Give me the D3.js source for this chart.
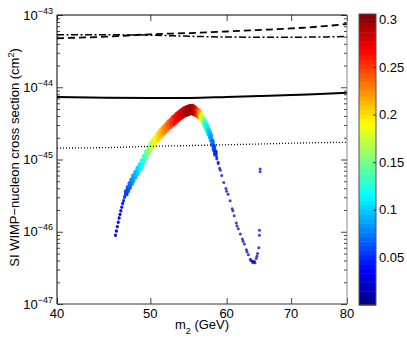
<!DOCTYPE html>
<html>
<head>
<meta charset="utf-8">
<script src="https://cdn.jsdelivr.net/npm/d3@7"></script>
<style>
  body { margin: 0; background: #fff; }
  svg { display: block; }
  text { font-family: "Liberation Sans", Arial, sans-serif; fill: #000; }
</style>
</head>
<body>
<svg id="chart" width="407" height="341"></svg>
<script>
// exclusion limits (cm^2) on a mass grid (GeV)
var massGrid     = [40, 45, 50, 55, 60, 65, 70, 75, 80];
var solidLimit   = [7.34e-45, 7.18e-45, 7.11e-45, 7.11e-45, 7.34e-45, 7.58e-45, 7.82e-45, 8.07e-45, 8.41e-45];
var dottedLimit  = [1.44e-45, 1.46e-45, 1.52e-45, 1.56e-45, 1.60e-45, 1.64e-45, 1.68e-45, 1.71e-45, 1.73e-45];
var dashedLimit  = [4.77e-44, 5.01e-44, 5.41e-44, 5.63e-44, 5.91e-44, 6.21e-44, 6.51e-44, 6.93e-44, 7.51e-44];
var dashDotLimit = [5.34e-44, 5.32e-44, 5.26e-44, 5.07e-44, 4.96e-44, 4.93e-44, 4.93e-44, 4.96e-44, 5.03e-44];

// thick part of the scan: mass, log10(sigma), half thickness (decades), colour value
var bandMass = [46.0, 46.1, 46.2, 46.3, 46.4, 46.5, 46.6, 46.7, 46.8, 46.9, 47.0, 47.2, 47.4, 47.6, 47.8,
                48.0, 48.25, 48.5, 48.75, 49.0, 49.25, 49.5, 49.75, 50.0, 50.25, 50.5, 50.75, 51.0, 51.25,
                51.5, 51.75, 52.0, 52.25, 52.5, 52.75, 53.0, 53.25, 53.5, 53.75, 54.0, 54.25, 54.5, 54.75,
                55.0, 55.25, 55.5, 55.75, 56.0, 56.15, 56.3, 56.45, 56.6, 56.75, 56.9, 57.05, 57.2, 57.35,
                57.5, 57.65, 57.8, 58.0, 58.2, 58.4, 58.6, 58.8];
var bandLogSigma = [-46.05, -45.99, -45.93, -45.87, -45.81, -45.76, -45.71, -45.66, -45.61, -45.57, -45.52,
                    -45.46, -45.41, -45.36, -45.31, -45.26, -45.21, -45.16, -45.11, -45.06, -45.00, -44.94,
                    -44.88, -44.83, -44.79, -44.75, -44.71, -44.68, -44.64, -44.61, -44.58, -44.55, -44.52,
                    -44.50, -44.47, -44.45, -44.42, -44.40, -44.38, -44.36, -44.34, -44.33, -44.32, -44.31,
                    -44.31, -44.32, -44.34, -44.36, -44.37, -44.39, -44.41, -44.43, -44.46, -44.49, -44.52,
                    -44.55, -44.58, -44.62, -44.66, -44.70, -44.77, -44.84, -44.91, -44.98, -45.05];
var bandSpread = [0.005, 0.005, 0.005, 0.005, 0.005, 0.005, 0.005, 0.005, 0.005, 0.005, 0.01,
                  0.02, 0.025, 0.03, 0.03, 0.035, 0.035, 0.04, 0.04, 0.045, 0.045, 0.045,
                  0.045, 0.045, 0.045, 0.045, 0.045, 0.045, 0.045, 0.045, 0.045, 0.045, 0.045,
                  0.045, 0.05, 0.05, 0.05, 0.05, 0.05, 0.05, 0.05, 0.05, 0.05, 0.05,
                  0.05, 0.05, 0.045, 0.04, 0.04, 0.04, 0.035, 0.035, 0.035, 0.035, 0.035,
                  0.035, 0.035, 0.03, 0.03, 0.03, 0.025, 0.025, 0.02, 0.015, 0.01];
var bandXi = [0.035, 0.035, 0.037, 0.038, 0.039, 0.04, 0.042, 0.044, 0.046, 0.048, 0.05,
              0.056, 0.062, 0.068, 0.076, 0.085, 0.092, 0.10, 0.107, 0.115, 0.127, 0.14,
              0.152, 0.165, 0.175, 0.185, 0.195, 0.205, 0.212, 0.22, 0.228, 0.235, 0.242,
              0.25, 0.257, 0.265, 0.27, 0.275, 0.28, 0.285, 0.29, 0.295, 0.298, 0.30,
              0.297, 0.29, 0.27, 0.25, 0.23, 0.21, 0.195, 0.18, 0.16, 0.14, 0.13,
              0.12, 0.11, 0.10, 0.092, 0.085, 0.07, 0.06, 0.05, 0.045, 0.04];

// thin tail of the scan
var tailMass = [59.0, 59.1, 59.3, 59.6, 59.9, 60.0, 60.2, 60.5, 60.8, 60.9, 61.1, 61.4, 61.5, 61.7, 62.0,
                62.3, 62.4, 62.6, 62.9, 63.0, 63.2, 63.5, 63.6, 63.8, 63.9, 64.1, 64.2, 64.4, 64.5, 64.6,
                64.8, 64.9, 64.9, 65.0, 65.0];
var tailLogSigma = [-45.12, -45.15, -45.22, -45.32, -45.40, -45.44, -45.48, -45.57, -45.68, -45.71, -45.78,
                    -45.88, -45.92, -45.96, -46.03, -46.10, -46.13, -46.17, -46.25, -46.28, -46.32, -46.38,
                    -46.40, -46.41, -46.43, -46.41, -46.43, -46.37, -46.34, -46.30, -46.22, -46.05, -45.98,
                    -45.13, -45.17];
var tailXi = [0.035, 0.034, 0.032, 0.03, 0.028, 0.027, 0.026, 0.024, 0.022, 0.022, 0.02,
              0.019, 0.019, 0.018, 0.017, 0.016, 0.016, 0.015, 0.014, 0.014, 0.013, 0.012,
              0.012, 0.012, 0.012, 0.012, 0.012, 0.013, 0.013, 0.014, 0.015, 0.02, 0.02,
              0.035, 0.035];

var xTicks = [40, 50, 60, 70, 80];
var yDecades = [-47, -46, -45, -44, -43];
var colorTicks = [0.05, 0.1, 0.15, 0.2, 0.25, 0.3];

var svg = d3.select('#chart');
var margin = { top: 15, left: 57, bottom: 37, right: 60 };
var width = 407, height = 341;

var x = d3.scaleLog().domain([40, 80]).range([margin.left, width - margin.right]);
var y = d3.scaleLog().domain([1e-47, 1e-43]).range([height - margin.bottom, margin.top]);

// jet colormap
var jet = d3.scaleLinear()
    .domain([0, 0.125, 0.375, 0.625, 0.875, 1])
    .range(["#000080", "#0000ff", "#00ffff", "#ffff00", "#ff0000", "#800000"]);
var cMax = 0.3056;
function colorOf(v) { return jet(Math.max(0, Math.min(1, v / cMax))); }

svg.append("defs").append("clipPath").attr("id", "plotclip")
    .append("rect")
    .attr("x", margin.left).attr("y", margin.top)
    .attr("width", width - margin.left - margin.right)
    .attr("height", height - margin.top - margin.bottom);

var plot = svg.append("g").attr("clip-path", "url(#plotclip)");

// scan points
var pts = [];
for (var i = 0; i < bandMass.length; i++) {
    var r = bandSpread[i] < 0.02 ? 1.4 : 2.3;
    pts.push([bandMass[i], bandLogSigma[i] + bandSpread[i], bandXi[i], r]);
    pts.push([bandMass[i], bandLogSigma[i] - bandSpread[i], bandXi[i], r]);
    pts.push([bandMass[i], bandLogSigma[i], bandXi[i], r]);
}
for (var j = 0; j < tailMass.length; j++) {
    pts.push([tailMass[j], tailLogSigma[j], tailXi[j], 1.5]);
}
plot.selectAll("circle.pt")
    .data(pts)
    .enter().append("circle")
    .attr("class", "pt")
    .attr("cx", function (d) { return x(d[0]); })
    .attr("cy", function (d) { return y(Math.pow(10, d[1])); })
    .attr("r", function (d) { return d[3]; })
    .attr("fill", function (d) { return colorOf(d[2]); })
    .attr("fill-opacity", function (d) { return d[3] < 2 ? 0.75 : 0.9; });

// limit curves
var line = d3.line()
    .x(function (d) { return x(d[0]); })
    .y(function (d) { return y(d[1]); })
    .curve(d3.curveMonotoneX);

function drawLimit(vals, width, dash) {
    plot.append("path")
        .datum(massGrid.map(function (m, k) { return [m, vals[k]]; }))
        .attr("d", line)
        .attr("fill", "none")
        .attr("stroke", "#000")
        .attr("stroke-width", width)
        .attr("stroke-dasharray", dash);
}
drawLimit(solidLimit, 2, null);
drawLimit(dottedLimit, 1.3, "1,2");
drawLimit(dashedLimit, 1.8, "7,4");
drawLimit(dashDotLimit, 1.5, "7,2.5,2,2.5");

// axes: ticks pointing inward
var yMajor = yDecades.map(function (e) { return Math.pow(10, e); });
var yMinor = [];
for (var e = -47; e < -43; e++) {
    for (var k = 2; k <= 9; k++) yMinor.push(k * Math.pow(10, e));
}

function tickAxis(axis, tx, ty) {
    var g = svg.append("g")
        .attr("transform", "translate(" + [tx, ty] + ")")
        .call(axis);
    g.select(".domain").remove();
    g.selectAll("line").attr("stroke", "#444");
    return g;
}
tickAxis(d3.axisLeft(y).tickValues(yMajor).tickSize(-6).tickFormat(""), margin.left, 0);
tickAxis(d3.axisLeft(y).tickValues(yMinor).tickSize(-3).tickFormat(""), margin.left, 0);
tickAxis(d3.axisRight(y).tickValues(yMajor).tickSize(-6).tickFormat(""), width - margin.right, 0);
tickAxis(d3.axisRight(y).tickValues(yMinor).tickSize(-3).tickFormat(""), width - margin.right, 0);
tickAxis(d3.axisBottom(x).tickValues(xTicks).tickSize(-6).tickFormat(""), 0, height - margin.bottom);
tickAxis(d3.axisTop(x).tickValues(xTicks).tickSize(-6).tickFormat(""), 0, margin.top);

// frame
var x0 = margin.left, x1 = width - margin.right, y0 = margin.top, y1 = height - margin.bottom;
svg.append("line").attr("x1", x0).attr("x2", x1).attr("y1", y0).attr("y2", y0).attr("stroke", "#000");
svg.append("line").attr("x1", x0).attr("x2", x0).attr("y1", y0).attr("y2", y1).attr("stroke", "#000");
svg.append("line").attr("x1", x0).attr("x2", x1).attr("y1", y1).attr("y2", y1).attr("stroke", "#333");
svg.append("line").attr("x1", x1).attr("x2", x1).attr("y1", y0).attr("y2", y1).attr("stroke", "#888");

// tick labels
svg.selectAll("text.xl")
    .data(xTicks)
    .enter().append("text")
    .attr("class", "xl")
    .attr("x", function (d) { return x(d); })
    .attr("y", 318)
    .attr("text-anchor", "middle")
    .style("font-size", "13px")
    .text(function (d) { return d; });

var yl = svg.selectAll("text.yl")
    .data(yDecades)
    .enter().append("text")
    .attr("class", "yl")
    .attr("x", 53)
    .attr("y", function (d) { return y(Math.pow(10, d)) + 4.5; })
    .attr("text-anchor", "end")
    .style("font-size", "13px");
yl.append("tspan").text("10");
yl.append("tspan").attr("dy", -6).style("font-size", "9px")
    .text(function (d) { return "\u2212" + (-d); });

// axis titles
var xt = svg.append("text")
    .attr("x", 202)
    .attr("y", 329)
    .attr("text-anchor", "middle")
    .style("font-size", "13px");
xt.append("tspan").text("m");
xt.append("tspan").attr("dy", 5).style("font-size", "9px").text("2");
xt.append("tspan").attr("dy", -5).text(" (GeV)");

var yt = svg.append("text")
    .attr("transform", "translate(18.5," + 157.5 + ") rotate(-90)")
    .attr("text-anchor", "middle")
    .style("font-size", "13px");
yt.append("tspan").text("SI WIMP\u2212nucleon cross section (cm");
yt.append("tspan").attr("dy", -5).style("font-size", "9px").text("2");
yt.append("tspan").attr("dy", 5).text(")");

// colour bar
var cb = { x: 359, w: 17, top: 14, bottom: 305 };
var cScale = d3.scaleLinear().domain([0, cMax]).range([cb.bottom, cb.top]);
var nLevels = 64;
svg.append("g").selectAll("rect")
    .data(d3.range(nLevels))
    .enter().append("rect")
    .attr("x", cb.x)
    .attr("width", cb.w)
    .attr("y", function (i) { return cScale((i + 1) * cMax / nLevels); })
    .attr("height", function (i) { return cScale(i * cMax / nLevels) - cScale((i + 1) * cMax / nLevels) + 0.5; })
    .attr("fill", function (i) { return jet((i + 0.5) / nLevels); });

svg.append("rect")
    .attr("x", cb.x).attr("y", cb.top)
    .attr("width", cb.w).attr("height", cb.bottom - cb.top)
    .attr("fill", "none").attr("stroke", "#555").attr("stroke-width", 1);

var cAxis = svg.append("g")
    .attr("transform", "translate(" + [cb.x + cb.w, 0] + ")")
    .call(d3.axisRight(cScale).tickValues(colorTicks).tickSize(-3).tickPadding(3)
        .tickFormat(function (d) { return String(d); }));
cAxis.select(".domain").remove();
cAxis.selectAll("line").attr("stroke", "#333");
cAxis.selectAll("text").style("font-size", "13px").style("font-family", "Liberation Sans, Arial, sans-serif");
</script>
</body>
</html>
